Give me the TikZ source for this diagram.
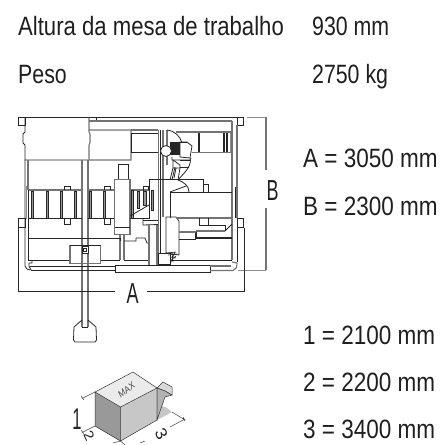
\documentclass[tikz,border=0pt]{standalone}
\usepackage{fontspec}
\setmainfont{Liberation Sans}
\tikzset{
 k/.style={draw=black!85,line width=.8pt},
 g/.style={draw=black!55,line width=1.1pt},
 h/.style={draw=black!45,line width=.8pt},
 lbl/.style={inner sep=0pt,anchor=base west,text=black!88,xscale=.85,font=\fontsize{26.5}{28}\selectfont},
 toplbl/.style={inner sep=0pt,anchor=base west,text=black!88,xscale=.805,font=\fontsize{26.5}{28}\selectfont},
 titlelbl/.style={inner sep=0pt,anchor=base west,text=black!88,xscale=.835,font=\fontsize{26.5}{28}\selectfont},
 dimlbl/.style={inner sep=0pt,anchor=base west,text=black!88,xscale=.62,font=\fontsize{29}{30}\selectfont},
 bar/.style={fill=black!40,draw=black!85,line width=.5pt},
}
\begin{document}
\begin{tikzpicture}[x=1pt,y=-1pt]
\useasboundingbox (0,0) rectangle (440,445);
% texts
\node[titlelbl] (t1) at (18,35) {Altura da mesa de trabalho};
\node[toplbl] (t2) at (312,35) {930 mm};
\node[toplbl] (t3) at (18,83) {Peso};
\node[toplbl] (t4) at (312,83) {2750 kg};
\node[lbl] (t5) at (303,167) {A = 3050 mm};
\node[lbl] (t6) at (303,215) {B = 2300 mm};
\node[lbl] (t7) at (303,344) {1 = 2100 mm};
\node[lbl] (t8) at (303,391) {2 = 2200 mm};
\node[lbl] (t9) at (303,438) {3 = 3400 mm};
\node[dimlbl] (tA) at (126.5,303) {A};
\node[dimlbl] (tB) at (266.5,200) {B};
% frame top
\draw[k] (18.5,117.5) -- (243,117.5);
\draw[k] (18.5,117.5) rectangle (25,125.5);
\draw[k] (25,117.5) -- (25,132) -- (23,134) -- (23,143) -- (25,145) -- (25,160) -- (88,160);
\draw[g] (89,117.5) -- (89,132) -- (90,134) -- (90,143) -- (89,145) -- (89,160) -- (131,160) -- (131,130) -- (89,130);
\draw[k] (96,117.5) -- (96,121);
\draw[g] (89,121) -- (232,121);
\draw[g] (131,130) -- (158,130);
\draw[k] (131,133) rectangle (158,152.5);
\draw[k] (237,117.5) rectangle (243,125.5);
\draw[g] (232,121) -- (232,260);
\draw[g] (237,125) -- (237,218);
\draw[k,line width=.5pt] (235.5,187) -- (235.5,218);
% verticals
\draw[g] (82,160) -- (82,327);
\draw[g] (88,160) -- (88,327);
\draw[g] (28,160) -- (28,190);
\draw[k] (25,160) -- (25,266) -- (27,269) -- (30,270);
\draw[h] (26,186) -- (26,219);
% drawers row
\draw[g] (28,190) -- (82,190);
\draw[g] (88,190) -- (114,190);
\draw[g] (130,190) -- (150,190);
\draw[k] (28,218.5) -- (82,218.5);
\draw[k] (88,218.5) -- (114,218.5);
\draw[k] (28,190) -- (28,260);
\foreach \x in {31,46,60,74,89,103} {
 \draw[bar] (\x,191) rectangle (\x+2.6,218);
}
\draw[k] (64,190) -- (64,186) -- (70,186) -- (70,190);
\draw[k] (104,190) -- (104,186) -- (110,186) -- (110,190);
\draw[k] (64,219) -- (64,224) -- (70,224) -- (70,219);
\draw[k] (104,219) -- (104,224) -- (110,224) -- (110,219);
% central column
\draw[k] (118,164.5) rectangle (128.5,179.5);
\draw[g] (114.5,179.5) rectangle (130,234.5);
\draw[k] (114.5,227) -- (130,227);
\draw[bar] (131,190) rectangle (133,218);
\draw[bar] (137,191) rectangle (139,208);
\draw[bar] (143,191) rectangle (146,205);
\draw[k] (143,191) -- (143,186) -- (148,186) -- (148,190);
\draw[k] (149,179) -- (149,219);
\draw[bar] (151,190) rectangle (153,210);
\draw[k] (130,216) -- (149,205);
\draw[k] (130,218.5) -- (150,218.5);
\draw[g] (120,234.5) -- (120,260);
\draw[g] (124,234.5) -- (124,260);
\draw[k] (149,179) -- (158,179);
% lower
\draw[k] (28,238) -- (120,238) -- (120,241);
\draw[k] (124,241) -- (136,241) -- (136,238) -- (145,238) -- (147,243) -- (149,243);
\draw[k] (143,218.5) -- (143,225) -- (158,224.5);
\draw[k] (143,220) -- (158,220);
\draw[k] (28,260) -- (70,260);
\draw[k] (100.5,260) -- (120,260) (124,260) -- (149,260);
\draw[g] (70,245.5) rectangle (100.5,263.5);
\draw[k] (70,245.5) -- (100.5,245.5);
\draw[k,fill=white] (82,246) rectangle (88,253);
\draw[k,line width=.6pt] (83.5,248) rectangle (86.5,251);
\draw[k] (32,260) -- (32,263) -- (29,263) -- (29,266) -- (31,270);
\draw[k] (30,266) -- (115,266);
\draw[k] (31,270) -- (115,270);
\draw[k,fill=white] (115,265.5) rectangle (210,272);
\draw[g] (210,266) -- (231,266);
\draw[g] (210,270.5) -- (233,270.5) .. controls (236,270) and (237,267) .. (237,263) -- (232,262);
% central right
\draw[g] (149,224.5) -- (149,265);
\draw[g] (157,224.5) -- (157,265);
\draw[g] (158.5,130) -- (158.5,253);
\draw[k] (160.5,130) -- (160.5,253);
\draw[g] (163,130) -- (163,217);
\draw[g] (167,130) -- (167,165);
\draw[k] (167,130) .. controls (175,131) and (180,136) .. (182,143);
\draw[k] (166,217) -- (176,217) -- (179,221) -- (179,255) -- (166,253) -- cycle;
\draw[k,fill=white] (158,253) rectangle (170,264.5);
\draw[k] (170,260) -- (232,260);
% right parts
\draw[g] (176,132) -- (232,132);
\draw[g] (192,152.5) -- (232,152.5);
\draw[k,line width=1.3pt] (199,133) -- (199,152);
\draw[k,line width=1.3pt] (224,133) -- (224,152);
\draw[k,line width=1.1pt] (227,133) -- (227,152);
\draw[h] (230,133) -- (230,152);
\draw[k] (158,179.5) -- (203,179.5) -- (203,192);
\draw[k] (203,184) -- (208.5,184) -- (208.5,192);
\draw[k] (170,192) -- (232,192);
\draw[k] (170,192) -- (170,218);
\draw[g] (176,218) -- (232,218);
\draw[k] (199,218) -- (199,225) (208,218) -- (208,225);
\draw[k] (199,225.5) -- (225,225.5) -- (225,231);
\draw[k] (225,231) -- (232,224);
\draw[k,line width=1.1pt] (196,231) -- (196,238) -- (232,238);
\draw[g] (196,231) -- (225,231);
\draw[g] (179,232) -- (196,232);
\draw[k] (179,239) -- (196,239);
% head
\fill[black!85] (170,142) rectangle (180,155);
\draw[k] (180,142) -- (180,157) -- (190,158) -- (192,146) -- (187,142) -- cycle;
\draw[k] (171,142) -- (187,142);
\draw[k,fill=white] (166,151) circle (5.5);
\draw[k] (172,157) -- (172,160) -- (190,160) -- (191,158);
\draw[k] (190.5,160) .. controls (190,168) and (185,172) .. (178,180);
\draw[k] (173,160) -- (180,165) -- (180,168) -- (173,168) -- (173,160);
\draw[k] (180,160) -- (190,160) (180,167) -- (189,167);
\draw[k] (173,168) -- (171,176) -- (170,180) (176,168) -- (174,178) (180,168) -- (178,180);
\draw[k] (172,180) -- (175,167);
\draw[k] (178,180) .. controls (184,182) and (189,186) .. (189,192);
\draw[k] (170,192) -- (186,186);
% scribble
\draw[black!85,line width=.6pt] (166,253) -- (176,252) (168,255) -- (177,254) (170,257) -- (176,258) (170,261) -- (176,256) (172,252) -- (173,262) (175,252) -- (171,262);
% dimensions
\draw[g] (266,117) -- (266,170);
\draw[h] (247,117) -- (266,117);
\draw[g] (266,208) -- (266,270);
\draw[h] (238,270) -- (266,270);
\draw[k] (18.5,218) rectangle (25,227);
\draw[k] (18.5,227) -- (18.5,291) -- (115,291);
\draw[k] (147,291) -- (244,291) -- (244,228);
\draw[k] (237,218.5) rectangle (243.5,227);
\draw[k] (237.5,227) -- (237.5,262);
% hook
\draw[k] (82,327) -- (88,327);
\draw[k] (82,320) -- (74,327) -- (73.5,340) -- (75,342) -- (95,342) -- (96.5,340) -- (96,327) -- (88,320);
% load
\coordinate (A) at (133,372);
\coordinate (B) at (95,392);
\coordinate (C) at (120.5,407);
\coordinate (D) at (157,388);
\coordinate (E) at (95,426);
\coordinate (F) at (120.5,441);
\coordinate (G) at (157,420);
\fill[black!40] (B) -- (C) -- (F) -- (E) -- cycle;
\fill[black!22] (C) -- (D) -- (G) -- (F) -- cycle;
\fill[black!8] (A) -- (B) -- (C) -- (D) -- cycle;
\fill[black!22] (157,420) -- (172,412) -- (167,408) -- (160,405) -- cycle;
\draw[black!80,line width=.5pt] (A) -- (B) -- (C) -- (D) -- cycle (B) -- (E) -- (F) -- (G) -- (D) (C) -- (F);
\draw[black!80,line width=.5pt,fill=black!15] (157,388) -- (163,382) -- (172,387) -- (172,395) -- (165,391) -- cycle;
\draw[black!80,line width=.5pt,fill=black!30] (157,420) -- (165,397) -- (172,395) -- (165,391) -- (157,388) -- cycle;
\node[font=\fontsize{10}{10}\selectfont,xscale=.8,rotate=33,text=black!70,inner sep=0pt] (max) at (126.5,390) {MAX};
\draw[black!75,line width=.5pt] (95,392) -- (82,398.5) (81,396) -- (84,400);
\draw[black!75,line width=.5pt] (95,426) -- (82,432.5) (81,430) -- (84,434);
\draw[black!75,line width=.5pt] (172,412) -- (185,420) (170,427) -- (185,419) (183,417) -- (185,421);
\draw[black!75,line width=.5pt] (113,443) -- (120.5,441) -- (125,445) (140,443) -- (145,441);
\node[font=\fontsize{30}{30}\selectfont,xscale=.55,text=black!85,inner sep=0pt] (n1) at (77,419) {1};
\node[font=\fontsize{16}{16}\selectfont,xscale=.85,rotate=-62,inner sep=0pt,text=black!85] (n2) at (89,436) {2};
\node[font=\fontsize{18}{18}\selectfont,xscale=.9,rotate=-62,inner sep=0pt,text=black!85] (n3) at (161.5,434) {3};
\end{tikzpicture}
\end{document}
